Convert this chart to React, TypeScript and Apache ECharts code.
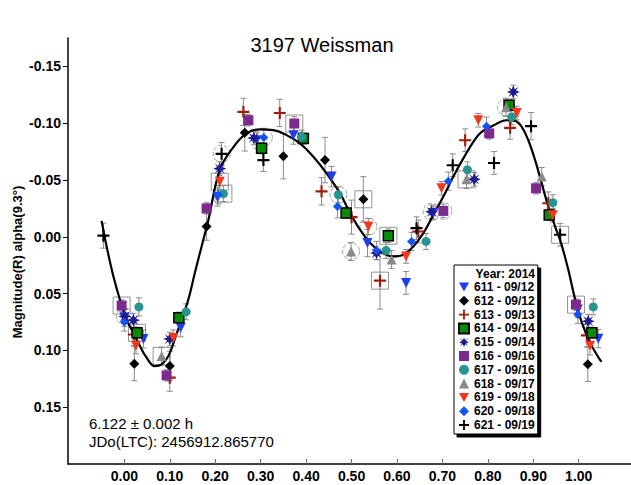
import React, { useEffect, useRef } from "react";
import * as echarts from "echarts";

// ---- Data (phase, magnitude, error) ----
const phaseTicks = [0, 0.1, 0.2, 0.3, 0.4, 0.5, 0.6, 0.7, 0.8, 0.9, 1.0];
const magTicks = [-0.15, -0.1, -0.05, 0, 0.05, 0.1, 0.15];

const fitCurve = [
  [-0.05, -0.014], [-0.039, 0.0085], [-0.024, 0.035], [-0.01, 0.055], [0.005, 0.073],
  [0.02, 0.0845], [0.034, 0.096], [0.049, 0.1064], [0.067, 0.1138], [0.082, 0.1123],
  [0.097, 0.105], [0.111, 0.09], [0.126, 0.073], [0.141, 0.055], [0.155, 0.032],
  [0.17, 0.0085], [0.185, -0.0149], [0.21, -0.0588], [0.24, -0.079], [0.269, -0.091],
  [0.298, -0.0945], [0.328, -0.0939], [0.357, -0.0895], [0.387, -0.082], [0.416, -0.0704],
  [0.445, -0.0559], [0.475, -0.038], [0.497, -0.0208], [0.519, -0.0061], [0.541, 0.0055],
  [0.563, 0.0129], [0.592, 0.0173], [0.614, 0.0158], [0.636, 0.0085], [0.658, -0.0032],
  [0.68, -0.0193], [0.702, -0.0354], [0.724, -0.053], [0.746, -0.069], [0.768, -0.0836],
  [0.785, -0.092], [0.812, -0.098], [0.8415, -0.1026], [0.86, -0.102], [0.8745, -0.0968],
  [0.889, -0.085], [0.904, -0.0675], [0.9185, -0.047], [0.933, -0.0266], [0.948, -0.009],
  [0.96, 0.004], [0.977, 0.029], [0.992, 0.055], [1.007, 0.0757], [1.025, 0.0932],
  [1.04, 0.104], [1.05, 0.11],
];

const s611 = [
  [0.0, 0.071, 0.008], [0.042, 0.09, 0.008], [0.124, 0.08, 0.008], [0.205, -0.035, 0.008],
  [0.291, -0.085, 0.007], [0.372, -0.0895, 0.008], [0.456, -0.053, 0.009], [0.535, 0.0055, 0.012],
  [0.62, 0.0406, 0.01], [0.68, -0.021, 0.006], [0.998, 0.064, 0.007], [1.043, 0.0897, 0.008],
];
const s612 = [
  [0.022, 0.1117, 0.015], [0.1, 0.1137, 0.013], [0.181, -0.009, 0.012], [0.265, -0.0915, 0.016],
  [0.35, -0.071, 0.02], [0.4416, -0.0675, 0.02], [0.526, -0.033, 0.02], [1.02, 0.1123, 0.015],
];
const s613 = [
  [0.021, 0.086, 0.01], [0.1, 0.124, 0.012], [0.262, -0.11, 0.012], [0.342, -0.109, 0.012],
  [0.434, -0.04, 0.012], [0.5, -0.0173, 0.015], [0.5626, 0.0386, 0.025], [0.647, -0.0047, 0.01],
  [0.75, -0.085, 0.01], [0.849, -0.0959, 0.01], [0.933, -0.0295, 0.01], [1.018, 0.0868, 0.01],
];
const s614 = [
  [0.028, 0.0845, 0.005], [0.12, 0.0713, 0.005], [0.302, -0.078, 0.005], [0.394, -0.0866, 0.005],
  [0.488, -0.021, 0.005], [0.581, -0.0009, 0.006], [0.8466, -0.1158, 0.005], [0.935, -0.0193, 0.005],
  [1.029, 0.0845, 0.005],
];
const s615 = [
  [0.001, 0.07, 0.006], [0.02, 0.0734, 0.006], [0.1, 0.09, 0.006], [0.21, -0.06, 0.006],
  [0.285, -0.087, 0.006], [0.555, 0.0143, 0.006], [0.676, -0.022, 0.006], [0.77, -0.0506, 0.006],
  [0.856, -0.1275, 0.006], [1.021, 0.0743, 0.006],
];
const s616 = [
  [-0.006, 0.0605, 0.005], [0.093, 0.122, 0.005], [0.181, -0.025, 0.005], [0.273, -0.1026, 0.005],
  [0.374, -0.0997, 0.006], [0.702, -0.0228, 0.006], [0.803, -0.091, 0.005], [0.906, -0.0427, 0.005],
  [0.994, 0.0597, 0.005],
];
const s617 = [
  [0.032, 0.0617, 0.008], [0.136, 0.066, 0.007], [0.218, -0.038, 0.007], [0.39, -0.088, 0.006],
  [0.471, -0.037, 0.007], [0.576, 0.012, 0.007], [0.664, 0.0041, 0.007], [0.755, -0.059, 0.007],
  [0.8525, -0.1055, 0.007], [0.943, -0.03, 0.007], [1.032, 0.0617, 0.007],
];
const s618 = [
  [0.082, 0.105, 0.008], [0.499, 0.0129, 0.008], [0.588, 0.02, 0.008], [0.753, -0.0506, 0.008],
  [0.84, -0.114, 0.008], [0.9186, -0.053, 0.008],
];
const s619 = [
  [0.0255, 0.096, 0.007], [0.108, 0.089, 0.007], [0.21, -0.0485, 0.007], [0.537, -0.009, 0.007],
  [0.62, 0.0173, 0.006], [0.698, -0.0427, 0.006], [0.779, -0.1026, 0.006], [0.8636, -0.109, 0.006],
  [0.943, -0.019, 0.006], [1.025, 0.096, 0.008],
];
const s620 = [
  [0.0, 0.075, 0.008], [0.207, -0.037, 0.008], [0.307, -0.0875, 0.008], [0.469, -0.0266, 0.01],
  [0.555, 0.012, 0.008], [0.632, 0.0041, 0.008], [0.713, -0.049, 0.008], [0.797, -0.0974, 0.008],
  [0.998, 0.0684, 0.008],
];
const s621 = [
  [-0.046, -0.001, 0.011], [0.214, -0.073, 0.01], [0.306, -0.0675, 0.01], [0.643, -0.0076, 0.01],
  [0.7226, -0.063, 0.01], [0.8136, -0.065, 0.01], [0.895, -0.0974, 0.012], [0.959, -0.0018, 0.01],
];

const boxedPoints = [
  [-0.006, 0.0605], [0.082, 0.105], [0.028, 0.0845], [0.21, -0.0485], [0.218, -0.038],
  [0.374, -0.0997], [0.526, -0.033], [0.581, -0.0009], [0.5626, 0.0386], [0.753, -0.0506],
  [0.959, -0.0018], [0.994, 0.0597],
];
const circledPoints = [
  [0.001, 0.07], [0.214, -0.073], [0.307, -0.0875], [0.471, -0.037], [0.537, -0.009],
  [0.499, 0.0129], [0.676, -0.022], [0.702, -0.0228], [0.84, -0.114], [0.85, -0.108],
];

const titleText = "3197 Weissman";
const yAxisTitle = "Magnitude(R) alpha(9.3°)";
const legendTitle = "Year: 2014";
const periodText = "6.122 ± 0.002 h";
const epochText = "JDo(LTC): 2456912.865770";

// ---- Styles ----
const FONT = "Liberation Sans, Arial, sans-serif";
const DOWN_TRI = "path://M0,0 L10,0 L5,9 Z";
const PLUS = "path://M4.1,0 H5.9 V4.1 H10 V5.9 H5.9 V10 H4.1 V5.9 H0 V4.1 H4.1 Z";
const STAR =
  "path://M5,0 L6.2,3 L8.9,1.1 L7,3.8 L10,5 L7,6.2 L8.9,8.9 L6.2,7 L5,10 L3.8,7 L1.1,8.9 L3,6.2 L0,5 L3,3.8 L1.1,1.1 L3.8,3 Z";

const groups = [
  { name: "611 - 09/12", data: s611, symbol: DOWN_TRI, size: 10, color: "#1e3cf0" },
  { name: "612 - 09/12", data: s612, symbol: "diamond", size: 10, color: "#000000" },
  { name: "613 - 09/13", data: s613, symbol: PLUS, size: 12, color: "#a01e0e" },
  { name: "614 - 09/14", data: s614, symbol: "rect", size: 10, color: "#0a8a0a", border: "#000" },
  { name: "615 - 09/14", data: s615, symbol: STAR, size: 13, color: "#1c1c90" },
  { name: "616 - 09/16", data: s616, symbol: "rect", size: 10, color: "#7c2a8e" },
  { name: "617 - 09/16", data: s617, symbol: "circle", size: 9, color: "#2a9490" },
  { name: "618 - 09/17", data: s618, symbol: "triangle", size: 10, color: "#8a8a8a" },
  { name: "619 - 09/18", data: s619, symbol: DOWN_TRI, size: 10, color: "#f0381a" },
  { name: "620 - 09/18", data: s620, symbol: "diamond", size: 9, color: "#1452f5" },
  { name: "621 - 09/19", data: s621, symbol: PLUS, size: 12, color: "#000000" },
];

export default function App() {
  const ref = useRef<HTMLDivElement>(null);

  useEffect(() => {
    document.body.style.margin = "0";
    if (!ref.current) return;
    const chart = echarts.init(ref.current, null, { renderer: "svg" });

    const errSeries = groups.map((g) => ({
      type: "custom",
      name: "err-" + g.name,
      data: g.data,
      z: 1,
      silent: true,
      renderItem: (_p: any, api: any) => {
        const x = api.value(0);
        const y = api.value(1);
        const e = api.value(2);
        const a = api.coord([x, y - e]);
        const b = api.coord([x, y + e]);
        const st = { stroke: "#8c8c8c", lineWidth: 1 };
        return {
          type: "group",
          children: [
            { type: "line", shape: { x1: a[0], y1: a[1], x2: b[0], y2: b[1] }, style: st },
            { type: "line", shape: { x1: a[0] - 3, y1: a[1], x2: a[0] + 3, y2: a[1] }, style: st },
            { type: "line", shape: { x1: b[0] - 3, y1: b[1], x2: b[0] + 3, y2: b[1] }, style: st },
          ],
        };
      },
    }));

    const pointSeries = groups.map((g) => ({
      type: "scatter",
      name: g.name,
      data: g.data.map((d) => [d[0], d[1]]),
      symbol: g.symbol,
      symbolSize: g.size,
      z: 4,
      itemStyle: {
        color: g.color,
        opacity: 1,
        borderColor: (g as any).border || g.color,
        borderWidth: (g as any).border ? 1.5 : 0,
      },
    }));

    chart.setOption({
      animation: false,
      backgroundColor: "#ffffff",
      grid: { left: 68, right: 0, top: 38, bottom: 21, containLabel: false, outerBoundsMode: "none" },
      xAxis: {
        type: "value",
        min: -0.124,
        max: 1.115,
        splitLine: { show: false },
        axisLine: { onZero: false, lineStyle: { color: "#000", width: 1.5 } },
        axisTick: { customValues: phaseTicks, inside: true, length: 5, lineStyle: { color: "#666" } },
        axisLabel: {
          customValues: phaseTicks,
          formatter: (v: number) => v.toFixed(2),
          fontFamily: FONT,
          fontSize: 14,
          fontWeight: "bold",
          color: "#000",
          margin: 5,
        },
      },
      yAxis: {
        type: "value",
        inverse: true,
        min: -0.175,
        max: 0.2,
        splitLine: { show: false },
        axisLine: { onZero: false, lineStyle: { color: "#000", width: 1.5 } },
        axisTick: { customValues: magTicks, inside: false, length: 5, lineStyle: { color: "#000" } },
        axisLabel: {
          customValues: magTicks,
          formatter: (v: number) => v.toFixed(2),
          fontFamily: FONT,
          fontSize: 14,
          fontWeight: "bold",
          color: "#000",
          margin: 7,
        },
      },
      legend: {
        data: groups.map((g) => g.name),
        orient: "vertical",
        left: 454,
        top: 265,
        itemWidth: 10,
        itemHeight: 10,
        itemGap: 1.8,
        padding: [16, 3, 3, 4],
        backgroundColor: "#fff",
        borderColor: "#000",
        borderWidth: 1,
        borderRadius: 0,
        shadowColor: "#000",
        shadowOffsetX: 3,
        shadowOffsetY: 3,
        shadowBlur: 0.01,
        selectedMode: false,
        textStyle: { fontFamily: FONT, fontSize: 12, lineHeight: 12, fontWeight: "bold", color: "#000" },
      },
      graphic: [
        {
          type: "text",
          x: 322,
          y: 45,
          style: { text: titleText, font: "20px " + FONT, fill: "#000", textAlign: "center", textVerticalAlign: "middle" },
        },
        {
          type: "text",
          x: 17,
          y: 262,
          rotation: Math.PI / 2,
          style: { text: yAxisTitle, font: "bold 13px " + FONT, fill: "#000", textAlign: "center", textVerticalAlign: "middle" },
        },
        {
          type: "text",
          x: 535,
          y: 274,
          z: 100,
          style: { text: legendTitle, font: "bold 12px " + FONT, fill: "#000", textAlign: "right", textVerticalAlign: "middle" },
        },
        {
          type: "text",
          x: 89,
          y: 423,
          style: { text: periodText, font: "15px " + FONT, fill: "#000", textVerticalAlign: "middle" },
        },
        {
          type: "text",
          x: 89,
          y: 441,
          style: { text: epochText, font: "15px " + FONT, fill: "#000", textVerticalAlign: "middle" },
        },
      ],
      series: [
        ...errSeries,
        {
          type: "line",
          name: "fit",
          data: fitCurve,
          smooth: 0.4,
          symbol: "none",
          z: 3,
          silent: true,
          lineStyle: { color: "#000", width: 2.2 },
        },
        {
          type: "scatter",
          name: "boxed",
          data: boxedPoints,
          symbol: "rect",
          symbolSize: 17,
          z: 2,
          silent: true,
          itemStyle: { color: "rgba(0,0,0,0)", borderColor: "#7a7a7a", borderWidth: 1 },
        },
        {
          type: "scatter",
          name: "circled",
          data: circledPoints,
          symbol: "circle",
          symbolSize: 17,
          z: 2,
          silent: true,
          itemStyle: { color: "rgba(0,0,0,0)", borderColor: "#8a8a8a", borderWidth: 1, borderType: "dashed" },
        },
        ...pointSeries,
      ],
    });

    return () => chart.dispose();
  }, []);

  return <div ref={ref} style={{ width: 631, height: 485 }} />;
}
